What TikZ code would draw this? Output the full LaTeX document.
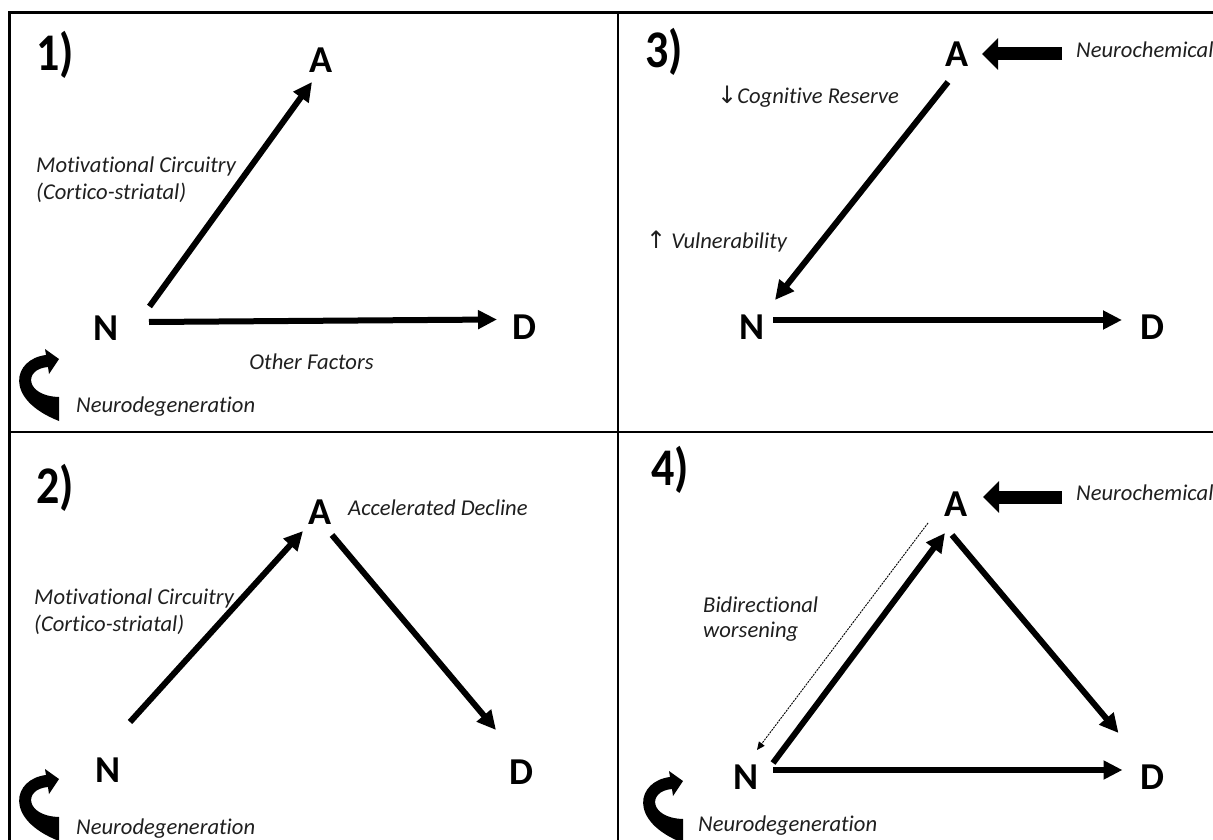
\documentclass[tikz,border=0pt]{standalone}
\usepackage{graphicx}
\usepackage{fontspec}
\setmainfont{Carlito}[Ligatures=NoCommon]
\newfontfamily\symfont{DejaVu Sans}
\usetikzlibrary{arrows.meta,calc}

\tikzset{
  cycle arrow/.pic={
    \fill[black] (-13,-4) .. controls (-46,0) and (-56,40) .. (0,62)
      -- (0,38) .. controls (-34,37) and (-36,10) .. (-11,8)
      -- (-10,15) -- (0,0) -- (-14,-10) -- cycle;
  }
}

\begin{document}
\begin{tikzpicture}[x=1pt,y=-1pt,
  letter/.style={font=\fontsize{38}{40}\selectfont\bfseries, inner sep=0pt},
  panelno/.style={font=\fontsize{46}{48}\selectfont\bfseries, inner sep=0pt},
  lbl/.style={font=\fontsize{22.6}{26}\selectfont\itshape, inner sep=0pt, anchor=west, text=black!88},
  link/.style={line width=6pt, -{Triangle[length=19pt,width=18pt]}},
  push/.style={line width=13pt, -{Triangle[length=16pt,width=31pt]}},
  hint/.style={line width=0.9pt, dash pattern=on 2pt off 1pt, -{Triangle[length=8pt,width=7pt]}},
  frame/.style={line width=3pt},
  divider/.style={line width=1.4pt}
]
\useasboundingbox (0,0) rectangle (1213,840);

% frame and panel dividers
\draw[frame] (9.5,840) -- (9.5,13) -- (1213,13);
\draw[divider] (618,13) -- (618,840);
\draw[divider] (10,432) -- (1213,432);

% ---------- panel 1 ----------
\node[panelno] (p1) at (55,55) {\scalebox{1}[1.15]{1)}};
\node[letter] (n1N) at (106.5,328.5) {N};
\node[letter] (n1A) at (321.5,60.5) {A};
\node[letter] (n1D) at (524,327.5) {D};
\draw[link] ($(n1N)+(43,-22)$) -- ($(n1A)+(-9.5,21.5)$);
\draw[link] ($(n1N)+(42.5,-6.5)$) -- ($(n1D)+(-27,-8)$);
\node[lbl] (l1a) at (36,166) {Motivational Circuitry};
\node[lbl] (l1b) at (36,193) {(Cortico-striatal)};
\node[lbl, anchor=center] (l1c) at (311.5,362) {Other Factors};
\pic at (59,359) {cycle arrow};
\node[lbl] (l1d) at (76,407) {Neurodegeneration};

% ---------- panel 2 ----------
\node[panelno] (p2) at (55,488) {\scalebox{1}[1.15]{2)}};
\node[letter] (n2N) at (108,770) {N};
\node[letter] (n2A) at (320,512) {A};
\node[letter] (n2D) at (521,772) {D};
\draw[link] ($(n2N)+(22,-48)$) -- ($(n2A)+(-17,19)$);
\draw[link] ($(n2A)+(12,23)$) -- ($(n2D)+(-25,-42)$);
\node[lbl] (l2a) at (348,508) {Accelerated Decline};
\node[lbl] (l2b) at (34,598) {Motivational Circuitry};
\node[lbl] (l2c) at (34,625) {(Cortico-striatal)};
\pic at (59,779) {cycle arrow};
\node[lbl] (l2d) at (76,829) {Neurodegeneration};

% ---------- panel 3 ----------
\node[panelno] (p3) at (664,52) {\scalebox{1}[1.15]{3)}};
\node[letter] (n3N) at (752,327) {N};
\node[letter] (n3A) at (957,54) {A};
\node[letter] (n3D) at (1152,327) {D};
\draw[link] ($(n3A)+(-9,28)$) -- ($(n3N)+(23,-27)$);
\draw[link] ($(n3N)+(21,-7)$) -- ($(n3D)+(-30,-7)$);
\coordinate (c3) at (1062,54);
\draw[push] (c3) -- ($(n3A)+(25,0)$);
\node[lbl] (l3a) at (1076,50) {Neurochemical};
\node[lbl] (l3b) at (717,97) {{\symfont\fontsize{24}{26}\selectfont\upshape ↓}Cognitive Reserve};
\node[lbl] (l3c) at (646,242) {{\symfont\fontsize{24}{26}\selectfont\upshape ↑} Vulnerability};

% ---------- panel 4 ----------
\node[panelno] (p4) at (670,470) {\scalebox{1}[1.15]{4)}};
\node[letter] (n4N) at (746,777) {N};
\node[letter] (n4A) at (956,504) {A};
\node[letter] (n4D) at (1152.5,777) {D};
\draw[link] ($(n4N)+(27,-14)$) -- ($(n4A)+(-11,29)$);
\draw[link] ($(n4A)+(-4,31)$) -- ($(n4D)+(-34,-44)$);
\draw[link] ($(n4N)+(27,-7)$) -- ($(n4D)+(-30,-7)$);
\draw[hint] ($(n4A)+(-28,19)$) -- ($(n4N)+(11,-27)$);
\coordinate (c4) at (1062,497);
\draw[push] (c4) -- ($(n4A)+(27,-7)$);
\node[lbl] (l4a) at (1076,493) {Neurochemical};
\node[lbl] (l4b) at (703,605) {Bidirectional};
\node[lbl] (l4c) at (703,632) {worsening};
\pic at (683,781) {cycle arrow};
\node[lbl] (l4d) at (698,826) {Neurodegeneration};
\end{tikzpicture}
\end{document}
